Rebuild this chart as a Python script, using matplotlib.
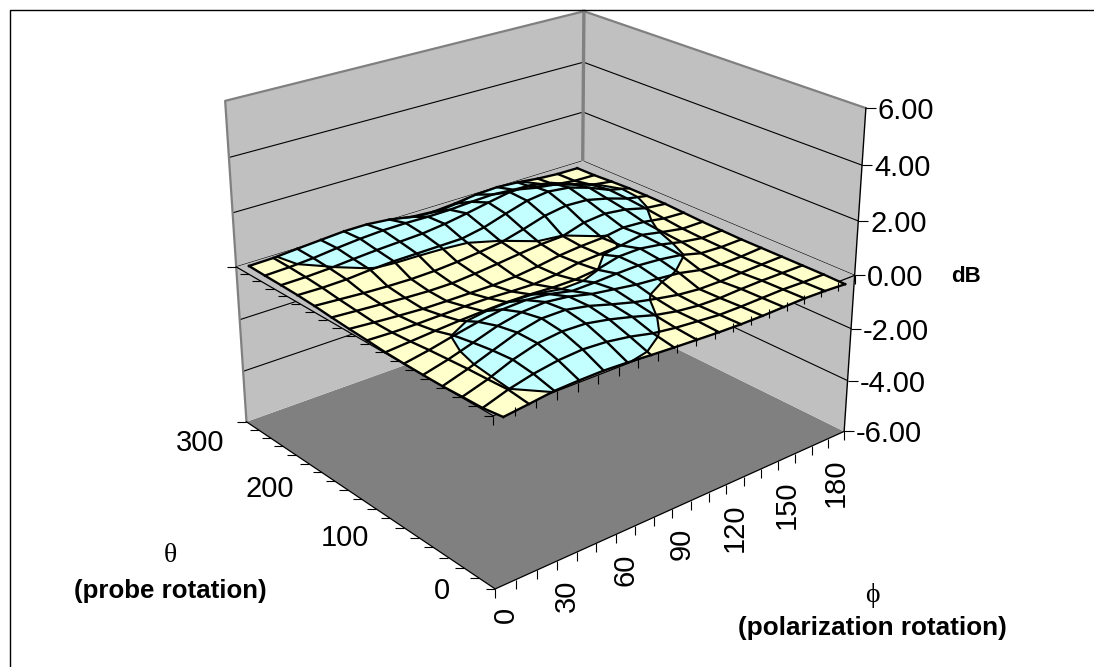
import numpy as np
import matplotlib
matplotlib.use('Agg')
from matplotlib import pyplot as plt
from matplotlib.collections import LineCollection
from matplotlib.lines import Line2D
from matplotlib.transforms import IdentityTransform
from mpl_toolkits.mplot3d import proj3d
from mpl_toolkits.mplot3d.art3d import Poly3DCollection, Line3DCollection

plt.rcParams['font.family'] = ['Liberation Sans', 'DejaVu Sans']

# mesh nodes of the two horizontal axes
phi = np.arange(0, 181, 12)
theta = np.arange(0, 351, 25)
phi_labels = [0, 30, 60, 90, 120, 150, 180]
theta_labels = [0, 100, 200, 300]
db_ticks = [-6, -4, -2, 0, 2, 4, 6]

# dB readings, one row per theta, one column per phi
db = np.array([
    [-.20, -.10, .01, .04, .05, .01, -.05, -.10, -.14, -.18, -.20, -.20, -.18, -.16, -.18, -.22],
    [-.30, -.01, .20, .34, .40, .35, .22, .03, -.08, -.15, -.22, -.22, -.20, -.18, -.20, -.20],
    [-.32, -.05, .30, .55, .65, .62, .46, .25, .01, -.15, -.24, -.26, -.22, -.20, -.20, -.20],
    [-.35, -.08, .24, .55, .74, .74, .58, .34, .12, -.05, -.20, -.28, -.28, -.25, -.22, -.20],
    [-.35, -.13, .14, .42, .60, .66, .56, .36, .24, .12, .05, -.03, -.20, -.27, -.25, -.20],
    [-.34, -.18, .02, .20, .34, .38, .30, .12, .14, .18, .20, .14, .03, -.18, -.22, -.20],
    [-.32, -.25, -.18, -.12, -.08, -.05, -.06, -.10, -.10, -.01, .20, .22, .10, -.08, -.20, -.18],
    [-.27, -.30, -.30, -.28, -.26, -.26, -.30, -.32, -.25, -.10, -.05, .01, .14, -.02, -.16, -.16],
    [-.23, -.30, -.36, -.41, -.42, -.42, -.42, -.38, -.28, -.15, -.07, -.03, .10, .05, -.08, -.12],
    [-.18, -.24, -.30, -.36, -.40, -.40, -.33, -.24, -.14, -.05, -.01, .24, .32, .22, .01, -.08],
    [-.12, -.18, -.24, -.28, -.30, -.28, -.22, -.13, -.02, .20, .45, .58, .54, .34, .08, -.07],
    [-.08, -.10, -.08, -.01, .03, .04, .05, .06, .22, .48, .72, .82, .72, .46, .12, -.07],
    [-.06, -.05, -.01, .06, .12, .16, .20, .30, .44, .60, .75, .76, .60, .30, .02, -.10],
    [-.05, -.02, .04, .14, .22, .27, .28, .26, .27, .32, .35, .28, .10, -.02, -.12, -.14],
    [-.03, -.01, .06, .12, .18, .18, .10, -.06, -.12, -.06, .04, .08, .02, -.08, -.14, -.15],
])

W, H = 1094, 667
x0, x1 = -5, 185
y0, y1 = -1, 354
z0, z1 = -6, 6
wall = '#C0C0C0'
cyan, yellow = '#C4FFFF', '#FFFFCC'

fig = plt.figure(figsize=(W/100, H/100), dpi=100)
ax = fig.add_subplot(projection='3d', computed_zorder=False)
ax.set_xlim(x0, x1, view_margin=0)
ax.set_ylim(y0, y1, view_margin=0)
ax.set_zlim(z0, z1, view_margin=0)
ax.set_axis_off()
ax.set_proj_type('persp', focal_length=.554)
ax.view_init(elev=24.102, azim=-129.953)
ax.set_box_aspect((1.307, 1.172, 1))
side, cx, cy = 691.326, 534.648, 280.466
ax.set_position([(cx-side/2)/W, (H-cy-side/2)/H, side/W, side/H])
ax.apply_aspect()
M = ax.get_proj()


def to_px(x, y, z):
    xs, ys, _ = proj3d.proj_transform(x, y, z, M)
    return ax.transData.transform((xs, ys))


def label(x, y, z, s, dx=0, dy=0, **kw):
    # place text by pixels relative to a 3d point, y pointing down
    px, py = to_px(x, y, z)
    fig.text((px+dx)/W, (py-dy)/H, s, **kw)


# walls, floor
ax.add_collection3d(Poly3DCollection([[(x0, y0, z0), (x1, y0, z0), (x1, y1, z0), (x0, y1, z0)]],
                                     facecolors='#808080', edgecolors='none', zorder=1))
ax.add_collection3d(Poly3DCollection([[(x0, y1, z0), (x1, y1, z0), (x1, y1, z1), (x0, y1, z1)],
                                      [(x1, y1, z0), (x1, y0, z0), (x1, y0, z1), (x1, y1, z1)]],
                                     facecolors=wall, edgecolors='none', zorder=1))
for z in db_ticks[1:-1]:
    ax.plot([x0, x1, x1], [y1, y1, y0], [z, z, z], color='black', lw=.8, zorder=2)
ax.plot([x0, x0, x1, x1], [y1, y1, y1, y0], [z0, z1, z1, z1], color='#808080', lw=1.6, zorder=2)
ax.plot([x1, x1], [y1, y1], [z0, z1], color='#808080', lw=2.4, zorder=2)
ax.plot([x1, x1], [y0, y0], [z0, z1], color='black', lw=1, zorder=3)

# sheet under the surface, axes at 0 dB
ax.add_collection3d(Poly3DCollection([[(x0, y0, 0), (x1, y0, 0), (x1, y1, 0), (x0, y1, 0)]],
                                     facecolors=wall, edgecolors='none', zorder=3))
for z in (z0, 0):
    ax.plot([x0, x0, x1], [y1, y0, y0], [z, z, z], color='black', lw=.9, zorder=3)

# split every cell at 0 dB
polys, cols, contour = [], [], []
for j in range(len(theta)-1):
    for i in range(len(phi)-1):
        q = [(phi[i], theta[j], db[j, i]), (phi[i+1], theta[j], db[j, i+1]),
             (phi[i+1], theta[j+1], db[j+1, i+1]), (phi[i], theta[j+1], db[j+1, i])]
        up, dn, cross = [], [], []
        for k in range(4):
            a, b = q[k], q[(k+1) % 4]
            (up if a[2] >= 0 else dn).append(a)
            if (a[2] >= 0) != (b[2] >= 0):
                t = a[2]/(a[2]-b[2])
                m = (a[0]+t*(b[0]-a[0]), a[1]+t*(b[1]-a[1]), 0.)
                up.append(m)
                dn.append(m)
                cross.append(m)
        if len(up) > 2:
            polys.append(up)
            cols.append(cyan)
        if len(dn) > 2:
            polys.append(dn)
            cols.append(yellow)
        for k in range(0, len(cross)-1, 2):
            contour.append([cross[k], cross[k+1]])
ax.add_collection3d(Poly3DCollection(polys, facecolors=cols, edgecolors=cols, linewidths=.4, zorder=5))
ax.add_collection3d(Line3DCollection(contour, colors='black', linewidths=1.5, zorder=6))
for j in range(len(theta)):
    ax.plot(phi, np.full(len(phi), theta[j]), db[j], color='black', lw=1.7, zorder=7)
for i in range(len(phi)):
    ax.plot(np.full(len(theta), phi[i]), theta, db[:, i], color='black', lw=1.7, zorder=7)

# tick marks are horizontal or vertical on the page, so they go in pixels
segs = []
for z in (z0, 0):
    for t in np.linspace(y0, y1, 19):
        px, py = to_px(x0, t, z)
        segs.append([(px, py), (px-9, py)])
    for p in np.arange(x0, x1+1, 10):
        px, py = to_px(p, y0, z)
        segs.append([(px, py), (px, py-9)])
for z in db_ticks:
    px, py = to_px(x1, y0, z)
    segs.append([(px, py), (px+10, py)])
fig.add_artist(LineCollection(segs, colors='black', linewidths=.8, transform=IdentityTransform()))

# tick labels
fs = 21
for p in phi_labels:
    label(p, y0, z0, str(p), dx=0, dy=23, rotation=90, ha='center', va='top', fontsize=fs)
for t in theta_labels:
    label(x0, t, z0, str(t), dx=-44-12*t/300, dy=3-4*t/300, ha='right', va='center', fontsize=fs)
for z in db_ticks:
    label(x1, y0, z, '%.2f' % z, dx=12, dy=3, ha='left', va='center', fontsize=fs)

fig.text(966/W, 1-277/H, 'dB', fontsize=16, fontweight='bold', ha='center', va='center')
fig.text(170/W, 1-591/H, '(probe rotation)', fontsize=18.6, fontweight='bold', ha='center', va='center')
fig.text(872/W, 1-628/H, '(polarization rotation)', fontsize=18.8, fontweight='bold', ha='center', va='center')
serif = ['Liberation Serif', 'DejaVu Serif']
fig.text(170/W, 1-556/H, '\u03b8', fontsize=20, family=serif, ha='center', va='center')
fig.text(872/W, 1-596/H, '\u03d5', fontsize=20, family=serif, ha='center', va='center')

# the frame shows only at the top and on the left
fig.add_artist(Line2D([9.5/W, 9.5/W, 1], [0, 1-9.5/H, 1-9.5/H], color='black', lw=1))
fig.savefig('out.png', dpi=100)
